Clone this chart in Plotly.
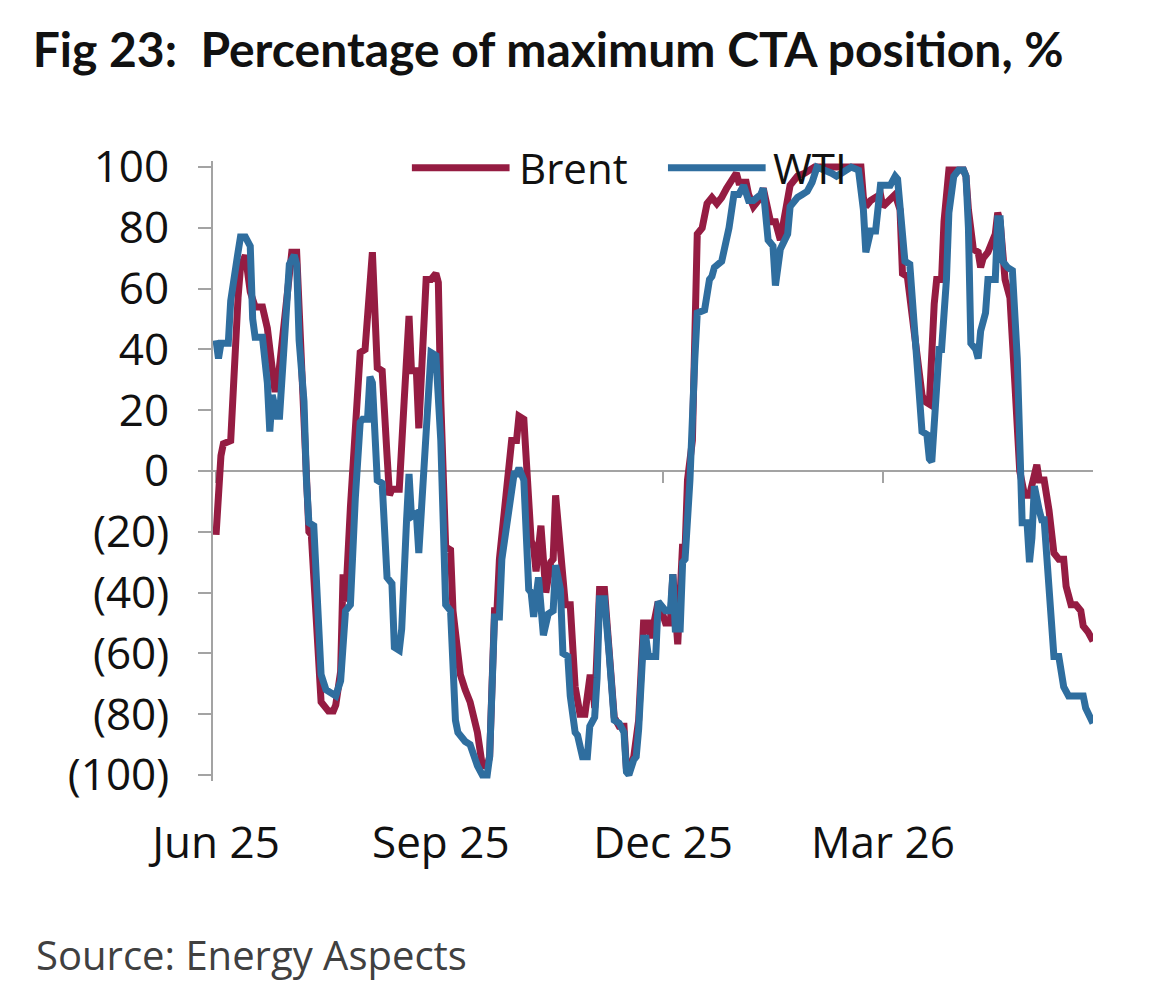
import plotly.graph_objects as go

# ---------------- data ----------------
brent_dates = [
    "2025-06-01", "2025-06-02", "2025-06-03", "2025-06-04", "2025-06-07", "2025-06-10", "2025-06-11",
    "2025-06-13", "2025-06-15", "2025-06-17", "2025-06-20", "2025-06-22", "2025-06-24", "2025-06-25",
    "2025-06-26", "2025-07-02", "2025-07-04", "2025-07-07", "2025-07-09", "2025-07-10", "2025-07-13",
    "2025-07-14", "2025-07-17", "2025-07-19", "2025-07-20", "2025-07-22", "2025-07-23", "2025-07-24",
    "2025-07-26", "2025-07-28", "2025-07-30", "2025-08-01", "2025-08-04", "2025-08-06", "2025-08-08",
    "2025-08-10", "2025-08-11", "2025-08-12", "2025-08-15", "2025-08-17", "2025-08-19", "2025-08-20",
    "2025-08-22", "2025-08-23", "2025-08-24", "2025-08-26", "2025-08-28", "2025-08-30", "2025-08-31",
    "2025-09-01", "2025-09-03", "2025-09-05", "2025-09-06", "2025-09-09", "2025-09-11", "2025-09-13",
    "2025-09-16", "2025-09-18", "2025-09-20", "2025-09-21", "2025-09-23", "2025-09-24", "2025-09-25",
    "2025-09-27", "2025-09-30", "2025-10-02", "2025-10-03", "2025-10-05", "2025-10-06", "2025-10-08",
    "2025-10-09", "2025-10-10", "2025-10-12", "2025-10-13", "2025-10-14", "2025-10-16", "2025-10-17",
    "2025-10-18", "2025-10-20", "2025-10-22", "2025-10-24", "2025-10-26", "2025-10-28", "2025-10-30",
    "2025-11-01", "2025-11-02", "2025-11-03", "2025-11-05", "2025-11-07", "2025-11-09", "2025-11-11",
    "2025-11-13", "2025-11-15", "2025-11-16", "2025-11-17", "2025-11-19", "2025-11-21", "2025-11-23",
    "2025-11-25", "2025-11-26", "2025-11-29", "2025-11-30", "2025-12-02", "2025-12-04", "2025-12-05",
    "2025-12-06", "2025-12-07", "2025-12-09", "2025-12-10", "2025-12-11", "2025-12-13", "2025-12-15",
    "2025-12-16", "2025-12-17", "2025-12-19", "2025-12-21", "2025-12-23", "2025-12-25", "2025-12-27",
    "2025-12-30", "2025-12-31", "2026-01-01", "2026-01-04", "2026-01-05", "2026-01-07", "2026-01-10",
    "2026-01-11", "2026-01-14", "2026-01-16", "2026-01-18", "2026-01-19", "2026-01-20", "2026-01-22",
    "2026-01-25", "2026-01-28", "2026-02-01", "2026-02-20", "2026-02-21", "2026-02-22", "2026-02-24",
    "2026-02-26", "2026-02-28", "2026-03-01", "2026-03-04", "2026-03-06", "2026-03-08", "2026-03-09",
    "2026-03-11", "2026-03-13", "2026-03-15", "2026-03-17", "2026-03-18", "2026-03-20", "2026-03-22",
    "2026-03-23", "2026-03-25", "2026-03-26", "2026-03-28", "2026-03-30", "2026-04-03", "2026-04-04",
    "2026-04-05", "2026-04-07", "2026-04-09", "2026-04-10", "2026-04-11", "2026-04-13", "2026-04-14",
    "2026-04-16", "2026-04-17", "2026-04-18", "2026-04-20", "2026-04-21", "2026-04-22", "2026-04-24",
    "2026-04-26", "2026-04-28", "2026-04-30", "2026-05-03", "2026-05-04", "2026-05-06", "2026-05-08",
    "2026-05-10", "2026-05-12", "2026-05-14", "2026-05-15", "2026-05-17", "2026-05-19", "2026-05-21",
    "2026-05-22", "2026-05-24", "2026-05-26",
]
brent_values = [
    -21, -1, 5, 9, 10, 57, 67,
    71, 59, 54, 54, 47, 34, 27,
    27, 72, 72, 23, -20, -21, -61,
    -76, -79, -79, -77, -66, -34, -43,
    -12, 10, 39, 40, 72, 34, 33,
    5, -8, -6, -6, 23, 51, 33,
    33, 14, 29, 63, 63, 65, 62,
    23, -25, -26, -46, -67, -72, -76,
    -86, -97, -97, -94, -46, -46, -29,
    -12, 10, 10, 18, 17, 3, -23,
    -25, -33, -18, -30, -40, -30, -29,
    -8, -29, -44, -44, -71, -80, -80,
    -68, -68, -78, -39, -39, -61, -81,
    -84, -84, -98, -99, -94, -82, -50,
    -50, -55, -43, -45, -50, -50, -34,
    -46, -57, -24, -26, -3, 10, 78,
    79, 80, 88, 90, 88, 90, 93,
    97, 98, 95, 95, 91, 87, 90,
    93, 82, 82, 76, 81, 86, 94,
    97, 98, 100, 100, 90, 87, 89,
    90, 91, 87, 89, 91, 86, 65,
    64, 50, 34, 25, 23, 22, 55,
    63, 63, 82, 99, 99, 99, 97,
    86, 73, 72, 67, 70, 72, 74,
    78, 85, 82, 63, 59, 57, 29,
    0, -8, -8, 2, -3, -3, -13,
    -27, -29, -29, -38, -44, -44, -46,
    -51, -53, -56,
]

wti_dates = [
    "2025-06-01", "2025-06-02", "2025-06-03", "2025-06-06", "2025-06-07", "2025-06-09", "2025-06-10",
    "2025-06-11", "2025-06-13", "2025-06-15", "2025-06-16", "2025-06-17", "2025-06-20", "2025-06-22",
    "2025-06-23", "2025-06-24", "2025-06-26", "2025-06-27", "2025-06-30", "2025-07-01", "2025-07-03",
    "2025-07-04", "2025-07-05", "2025-07-07", "2025-07-08", "2025-07-09", "2025-07-11", "2025-07-13",
    "2025-07-14", "2025-07-16", "2025-07-18", "2025-07-20", "2025-07-22", "2025-07-24", "2025-07-26",
    "2025-07-27", "2025-07-28", "2025-07-30", "2025-07-31", "2025-08-02", "2025-08-03", "2025-08-04",
    "2025-08-06", "2025-08-08", "2025-08-10", "2025-08-12", "2025-08-13", "2025-08-15", "2025-08-16",
    "2025-08-18", "2025-08-19", "2025-08-20", "2025-08-22", "2025-08-23", "2025-08-25", "2025-08-27",
    "2025-08-28", "2025-08-30", "2025-09-01", "2025-09-03", "2025-09-05", "2025-09-07", "2025-09-08",
    "2025-09-11", "2025-09-13", "2025-09-16", "2025-09-18", "2025-09-20", "2025-09-21", "2025-09-23",
    "2025-09-25", "2025-09-26", "2025-09-29", "2025-10-01", "2025-10-02", "2025-10-03", "2025-10-05",
    "2025-10-07", "2025-10-08", "2025-10-09", "2025-10-11", "2025-10-12", "2025-10-13", "2025-10-15",
    "2025-10-17", "2025-10-18", "2025-10-20", "2025-10-21", "2025-10-23", "2025-10-24", "2025-10-26",
    "2025-10-27", "2025-10-29", "2025-10-31", "2025-11-01", "2025-11-03", "2025-11-04", "2025-11-05",
    "2025-11-07", "2025-11-09", "2025-11-11", "2025-11-13", "2025-11-15", "2025-11-16", "2025-11-17",
    "2025-11-19", "2025-11-20", "2025-11-21", "2025-11-23", "2025-11-24", "2025-11-25", "2025-11-28",
    "2025-11-29", "2025-12-02", "2025-12-04", "2025-12-05", "2025-12-06", "2025-12-08", "2025-12-09",
    "2025-12-10", "2025-12-12", "2025-12-14", "2025-12-15", "2025-12-18", "2025-12-20", "2025-12-21",
    "2025-12-22", "2025-12-25", "2025-12-28", "2025-12-30", "2026-01-01", "2026-01-03", "2026-01-05",
    "2026-01-07", "2026-01-10", "2026-01-11", "2026-01-13", "2026-01-15", "2026-01-16", "2026-01-18",
    "2026-01-20", "2026-01-21", "2026-01-22", "2026-01-25", "2026-01-27", "2026-01-29", "2026-01-31",
    "2026-02-02", "2026-02-08", "2026-02-10", "2026-02-12", "2026-02-16", "2026-02-19", "2026-02-21",
    "2026-02-22", "2026-02-24", "2026-02-26", "2026-02-27", "2026-02-28", "2026-03-02", "2026-03-04",
    "2026-03-06", "2026-03-07", "2026-03-09", "2026-03-10", "2026-03-12", "2026-03-14", "2026-03-15",
    "2026-03-17", "2026-03-19", "2026-03-20", "2026-03-21", "2026-03-23", "2026-03-24", "2026-03-25",
    "2026-03-27", "2026-03-28", "2026-03-30", "2026-04-01", "2026-04-03", "2026-04-04", "2026-04-05",
    "2026-04-06", "2026-04-08", "2026-04-09", "2026-04-10", "2026-04-12", "2026-04-13", "2026-04-16",
    "2026-04-17", "2026-04-18", "2026-04-19", "2026-04-21", "2026-04-23", "2026-04-25", "2026-04-26",
    "2026-04-27", "2026-04-29", "2026-04-30", "2026-05-01", "2026-05-02", "2026-05-04", "2026-05-05",
    "2026-05-06", "2026-05-08", "2026-05-10", "2026-05-12", "2026-05-13", "2026-05-14", "2026-05-16",
    "2026-05-19", "2026-05-22", "2026-05-23", "2026-05-24", "2026-05-26",
]
wti_values = [
    43, 37, 42, 42, 56, 70, 72,
    77, 77, 74, 50, 44, 44, 29,
    13, 25, 18, 18, 59, 68, 71,
    68, 43, 23, -3, -17, -18, -59,
    -67, -72, -73, -74, -69, -46, -44,
    -23, -9, 16, 17, 17, 31, 29,
    -3, -4, -35, -37, -58, -59, -52,
    -16, -1, -15, -14, -27, 0, 33,
    39, 38, 10, -44, -46, -82, -86,
    -89, -90, -97, -100, -100, -94, -48,
    -48, -29, -12, -1, -1, 1, -3,
    -39, -40, -48, -35, -47, -54, -47,
    -46, -31, -39, -60, -61, -74, -86,
    -87, -94, -94, -84, -81, -68, -42,
    -42, -61, -82, -83, -86, -99, -100,
    -95, -94, -85, -55, -55, -61, -61,
    -43, -46, -46, -34, -52, -52, -30,
    -29, -3, 37, 52, 53, 63, 64,
    67, 69, 80, 91, 91, 94, 89,
    89, 91, 93, 76, 74, 61, 73,
    77, 78, 87, 90, 91, 92, 95,
    100, 98, 97, 98, 100, 99, 86,
    72, 79, 79, 85, 94, 94, 94,
    97, 96, 78, 69, 68, 46, 30,
    13, 12, 4, 3, 30, 40, 40,
    63, 85, 97, 99, 99, 97, 80,
    42, 40, 37, 46, 52, 63, 63,
    83, 83, 69, 67, 66, 37, 5,
    -17, -17, -30, -22, -5, -13, -16,
    -16, -37, -61, -61, -68, -71, -74,
    -74, -74, -78, -80, -83,
]

x_tick_vals = ["2025-06-01", "2025-09-01", "2025-12-01", "2026-03-01"]
x_tick_text = ["Jun 25", "Sep 25", "Dec 25", "Mar 26"]
y_tick_vals = [100, 80, 60, 40, 20, 0, -20, -40, -60, -80, -100]
y_tick_text = ["100", "80", "60", "40", "20", "0", "(20)", "(40)", "(60)", "(80)", "(100)"]

series_names = ["Brent", "WTI"]
colors = ["#951C42", "#2F6E9F"]

# ---------------- figure ----------------
X_RANGE = ["2025-05-30 18:00", "2026-05-26 00:00"]
Y_RANGE = [-102, 102]
AXIS_GREY = "#A3A3A3"
TICK_FONT = dict(family="Open Sans", size=44, color="#111111")
LINE_W = 7

fig = go.Figure()
fig.add_trace(go.Scatter(x=brent_dates, y=brent_values, mode="lines", name=series_names[0],
                         line=dict(color=colors[0], width=LINE_W), xaxis="x", yaxis="y"))
fig.add_trace(go.Scatter(x=wti_dates, y=wti_values, mode="lines", name=series_names[1],
                         line=dict(color=colors[1], width=LINE_W), xaxis="x2", yaxis="y"))

# custom legend (line swatch + label), placed above the plot top
legend_items = [(0.226, 0.337, 0.346), (0.517, 0.628, 0.634)]
for (x0, x1, xt), name, col in zip(legend_items, series_names, colors):
    fig.add_shape(type="line", xref="paper", yref="paper", x0=x0, x1=x1, y0=0.989, y1=0.989,
                  line=dict(color=col, width=7), layer="above")
    fig.add_annotation(xref="paper", yref="paper", x=xt, y=0.989, text=name, showarrow=False,
                       xanchor="left", yanchor="middle", font=dict(family="Open Sans", size=42, color="#111111"))

fig.add_annotation(xref="paper", yref="paper", x=-0.2035, y=-0.2806, text="Source: Energy Aspects",
                   showarrow=False, xanchor="left", yanchor="middle",
                   font=dict(family="Open Sans", size=40, color="#404040"))

fig.update_layout(
    width=1168, height=989, autosize=False,
    paper_bgcolor="white", plot_bgcolor="white",
    margin=dict(l=213, r=75, t=161, b=208),
    showlegend=False,
    title=dict(text="Fig 23:&nbsp; Percentage of maximum CTA position, %",
               x=0.028, xref="container", xanchor="left", y=0.949, yref="container", yanchor="middle",
               font=dict(family="Lato", size=48, color="#111111", weight="bold")),
    xaxis=dict(type="date", range=X_RANGE, tickvals=x_tick_vals, ticktext=x_tick_text,
               showgrid=False, zeroline=False, showline=False, ticks="",
               tickfont=TICK_FONT, ticklabelstandoff=32),
    xaxis2=dict(type="date", range=X_RANGE, overlaying="x", anchor="free", position=0.5,
                tickvals=x_tick_vals, showticklabels=False, showgrid=False, zeroline=False,
                showline=True, linecolor=AXIS_GREY, linewidth=2, ticks="outside", ticklen=11,
                tickcolor=AXIS_GREY, tickwidth=2, layer="below traces"),
    yaxis=dict(range=Y_RANGE, tickvals=y_tick_vals, ticktext=y_tick_text,
               showgrid=False, zeroline=False, showline=True, linecolor=AXIS_GREY, linewidth=2,
               ticks="outside", ticklen=13, tickcolor=AXIS_GREY, tickwidth=2,
               tickfont=TICK_FONT, ticklabelstandoff=20),
)

fig.write_html("out.html")
